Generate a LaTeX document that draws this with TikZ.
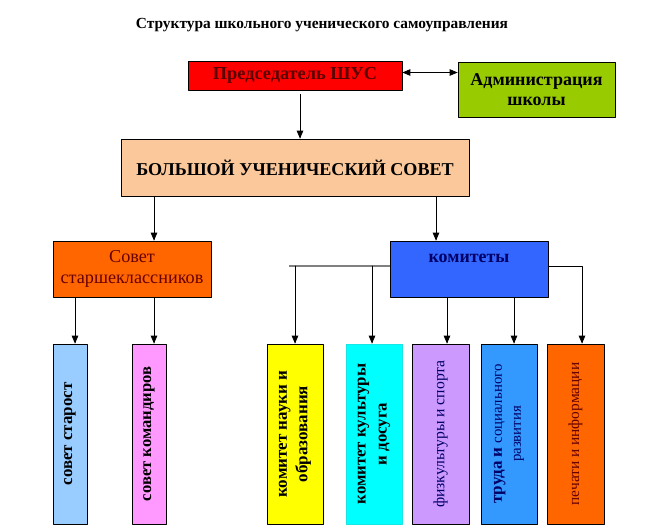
\documentclass[tikz,border=0pt]{standalone}
\usepackage{fontspec}
\setmainfont{Liberation Serif}
\usetikzlibrary{arrows}

\definecolor{chairred}{HTML}{FF0000}
\definecolor{chairtext}{HTML}{5A0000}
\definecolor{admingreen}{HTML}{99CC00}
\definecolor{bigpeach}{HTML}{FAC89A}
\definecolor{senorange}{HTML}{FF6600}
\definecolor{sentext}{HTML}{660000}
\definecolor{comblue}{HTML}{3366FF}
\definecolor{comtext}{HTML}{000066}
\definecolor{starblue}{HTML}{99CCFF}
\definecolor{komapink}{HTML}{FF99FF}
\definecolor{naukayellow}{HTML}{FFFF00}
\definecolor{kultcyan}{HTML}{00FFFF}
\definecolor{sportlilac}{HTML}{CC99FF}
\definecolor{trudblue}{HTML}{3399FF}
\definecolor{pechorange}{HTML}{FF6600}

\begin{document}
\begin{tikzpicture}[line cap=round,line join=round,>=triangle 45,x=1pt,y=-1pt,
  box/.style={draw=black,line width=0.8pt,inner sep=0pt,align=center},
  vbox/.style={box,rotate=90,minimum width=180pt},
  link/.style={->,line width=0.8pt}]
\useasboundingbox (0,0) rectangle (650,531);
% title
\node[font=\bfseries\fontsize{15.4}{17}\selectfont] (title) at (322,25) {Структура школьного ученического самоуправления};
% top level
\node[box,fill=chairred,text=chairtext,minimum width=214pt,minimum height=29pt,font=\bfseries\fontsize{18.3}{20}\selectfont] (chair) at (295,75.5) {Председатель ШУС};
\node[box,fill=admingreen,minimum width=157pt,minimum height=55pt,font=\bfseries\fontsize{18}{20}\selectfont] (admin) at (536.5,89.5) {Администрация\\школы};
\node[box,fill=bigpeach,minimum width=348pt,minimum height=57pt,font=\bfseries\fontsize{18.1}{20}\selectfont] (big) at (295,167.5) {БОЛЬШОЙ УЧЕНИЧЕСКИЙ СОВЕТ};
% second level
\node[box,fill=senorange,text=sentext,minimum width=158pt,minimum height=56pt,font=\fontsize{18.2}{21}\selectfont] (sen) at (132,269) {Совет\\старшеклассников};
\node[box,fill=comblue,text=comtext,minimum width=158pt,minimum height=56pt,text height=12pt,text depth=26pt,font=\bfseries\fontsize{17.9}{19}\selectfont] (com) at (469,269) {комитеты};
% bottom level
\node[vbox,fill=starblue,minimum height=34pt,font=\bfseries\fontsize{16.9}{18}\selectfont] (b1) at (70,434) {совет старост};
\node[vbox,fill=komapink,minimum height=34pt,font=\bfseries\fontsize{16.6}{18}\selectfont] (b2) at (149,434) {совет командиров};
\node[vbox,fill=naukayellow,minimum height=56pt,font=\bfseries\fontsize{17}{20.5}\selectfont] (b3) at (295,434) {комитет науки и\\образования};
\node[vbox,fill=kultcyan,draw=kultcyan!80!gray,minimum height=56pt,font=\bfseries\fontsize{16.8}{21}\selectfont] (b4) at (374,434) {комитет культуры\\и досуга};
\node[vbox,fill=sportlilac,text=comtext,minimum height=57pt,font=\fontsize{15.7}{17}\selectfont] (b5) at (440.5,434) {физкультуры и спорта};
\node[vbox,fill=trudblue,text=comtext,minimum height=56pt,font=\fontsize{14.8}{19}\selectfont] (b6) at (509,434) {{\bfseries\fontsize{17}{19}\selectfont труда и} социального\\развития};
\node[vbox,fill=pechorange,text=sentext,minimum height=57pt,font=\fontsize{15.4}{17}\selectfont] (b7) at (575.5,434) {печати и информации};
% connectors
\draw[<->,line width=0.8pt] ([yshift=3pt]chair.east) -- ([yshift=3pt]chair.east -| admin.west);
\draw[link] ([xshift=5pt,yshift=-4pt]chair.south) coordinate (p0) -- (p0 |- big.north);
\draw[link] ([xshift=-141pt]big.south) coordinate (p1) -- (p1 |- sen.north);
\draw[link] ([xshift=141pt]big.south) coordinate (p2) -- (p2 |- com.north);
\draw[link] ([xshift=-57pt]sen.south) coordinate (p3) -- (p3 |- b1.east);
\draw[link] ([xshift=22pt]sen.south) coordinate (p4) -- (p4 |- b2.east);
\draw[gray,line width=2pt,line cap=butt] ([yshift=3pt]com.west) -- ++(-101,0) coordinate (gl);
\draw[link] (gl -| b3.east) -- (b3.east);
\draw[link] ([xshift=-2pt]gl -| b4.east) coordinate (p5) -- (p5 |- b4.east);
\draw[link] ([xshift=-22pt]com.south) coordinate (p6) -- (p6 |- b5.east);
\draw[link] ([xshift=45pt]com.south) coordinate (p7) -- (p7 |- b6.east);
\draw[link] ([yshift=3pt]com.east) -| ([xshift=6.5pt]b7.east);
\end{tikzpicture}
\end{document}
